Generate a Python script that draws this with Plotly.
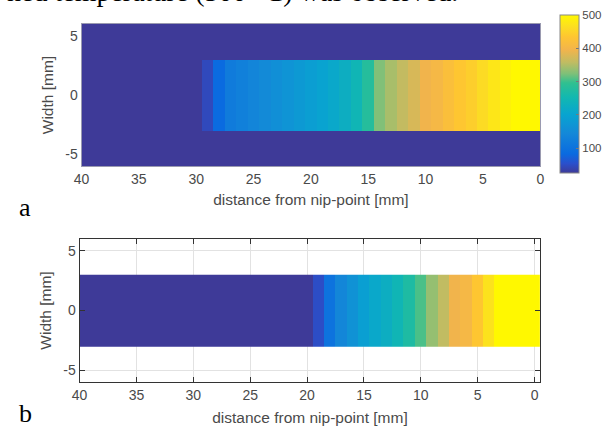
import plotly.graph_objects as go

# Distance from the nip-point (cell centres, mm) and tape width rows (mm)
distance_mm = list(range(0, 41))
width_rows_full = [-5.5, -4.5, -3.5, -2.5, -1.5, -0.5, 0.5, 1.5, 2.5, 3.5, 4.5, 5.5]
width_rows_tape = [-2.5, -1.5, -0.5, 0.5, 1.5, 2.5]
tape_half_width = 3.0
ambient_temp = 25

# Surface temperature along the tape [°C], index = distance in mm (0 ... 40)
temp_a = [500, 500, 500, 490, 475, 460, 445, 435, 420, 405,
          395, 375, 360, 345, 325, 280, 245, 225, 210, 198,
          188, 178, 168, 158, 148, 138, 128, 118, 85, 45,
          25, 25, 25, 25, 25, 25, 25, 25, 25, 25, 25]
temp_b = [500, 500, 500, 500, 470, 435, 405, 395, 358, 335,
          305, 270, 245, 225, 210, 190, 165, 140, 100, 50,
          25, 25, 25, 25, 25, 25, 25, 25, 25, 25, 25,
          25, 25, 25, 25, 25, 25, 25, 25, 25, 25]

colorbar_ticks = [100, 200, 300, 400, 500]
axis_x_ticks = [0, 5, 10, 15, 20, 25, 30, 35, 40]
axis_y_ticks = [-5, 0, 5]
axis_y_labels = ["-5", "0", "5"]

# Parula-like colour map
parula = [
    [0.00, "#3e3a98"], [0.06, "#2a50cc"], [0.12, "#0a6ae0"],
    [0.25, "#1488d8"], [0.37, "#08a4d0"], [0.48, "#12b8b0"],
    [0.57, "#30c090"], [0.63, "#80c078"], [0.70, "#c0bc62"],
    [0.78, "#f2b44c"], [0.86, "#fec532"], [0.93, "#fce020"],
    [1.00, "#fff800"],
]

# Grid of temperatures: panel a spans the full width (tape surrounded by cold
# substrate), panel b only shows the tape itself
z_a = [[temp_a[i] if abs(w) < tape_half_width else ambient_temp
        for i in range(len(distance_mm))] for w in width_rows_full]
z_b = [[temp_b[i] for i in range(len(distance_mm))] for w in width_rows_tape]

W, H = 608, 430


def px_x(p):
    return p / W


def px_y(p):
    return 1 - p / H


fig = go.Figure()
fig.add_trace(go.Heatmap(x=distance_mm, y=width_rows_full, z=z_a,
                         coloraxis="coloraxis", xaxis="x", yaxis="y",
                         hoverinfo="skip"))
fig.add_trace(go.Heatmap(x=distance_mm, y=width_rows_tape, z=z_b,
                         coloraxis="coloraxis", xaxis="x2", yaxis="y2",
                         hoverinfo="skip"))

sans = "Liberation Sans, Arial, sans-serif"
tick_font = dict(family=sans, size=14, color="#4a4a4a")
title_font = dict(family=sans, size=15.5, color="#4a4a4a")

fig.update_layout(
    width=W, height=H,
    margin=dict(l=0, r=0, t=0, b=0),
    paper_bgcolor="white", plot_bgcolor="white",
    showlegend=False,
    coloraxis=dict(
        colorscale=parula, cmin=ambient_temp, cmax=500,
        colorbar=dict(
            x=px_x(563), xanchor="left", xpad=0,
            y=px_y(94), yanchor="middle", ypad=0,
            len=158 / H, lenmode="fraction",
            thickness=19, thicknessmode="pixels",
            tickvals=colorbar_ticks, ticks="inside", ticklen=3,
            tickcolor="#777", outlinecolor="#888", outlinewidth=1,
            tickfont=dict(family=sans, size=11.5, color="#4a4a4a"),
        ),
    ),
    xaxis=dict(
        domain=[px_x(75), px_x(543)], anchor="y",
        range=[40, 0], tickvals=axis_x_ticks, ticks="",
        showgrid=False, zeroline=False,
        showline=True, linecolor="#9a9ab0", linewidth=1, mirror=True,
        tickfont=tick_font,
        title=dict(text="distance from nip-point [mm]", font=title_font, standoff=8),
    ),
    yaxis=dict(
        domain=[px_y(166), px_y(24)], anchor="x",
        range=[-6, 6], tickvals=axis_y_ticks, ticktext=axis_y_labels, ticks="",
        showgrid=False, zeroline=False,
        showline=True, linecolor="#9a9ab0", linewidth=1, mirror=True,
        tickfont=tick_font,
        title=dict(text="Width [mm]", font=title_font, standoff=7),
    ),
    xaxis2=dict(
        domain=[px_x(73), px_x(543)], anchor="y2",
        range=[40, -0.5], tickvals=axis_x_ticks,
        ticks="inside", ticklen=5, tickcolor="#333",
        showgrid=True, gridcolor="#e2e2e2", zeroline=False,
        showline=True, linecolor="#333", linewidth=1, mirror="allticks",
        tickfont=tick_font,
        title=dict(text="distance from nip-point [mm]", font=title_font, standoff=10),
    ),
    yaxis2=dict(
        domain=[px_y(382), px_y(239)], anchor="x2",
        range=[-6, 6], tickvals=axis_y_ticks, ticktext=axis_y_labels,
        ticks="inside", ticklen=5, tickcolor="#333",
        showgrid=True, gridcolor="#e2e2e2", zeroline=False,
        showline=True, linecolor="#333", linewidth=1, mirror="allticks",
        tickfont=tick_font,
        title=dict(text="Width [mm]", font=title_font, standoff=7),
    ),
)

serif = dict(family="Liberation Serif, Times New Roman, serif", size=26, color="black")
fig.add_annotation(text="hed temperature (500 °C) was observed.",
                   xref="paper", yref="paper", x=px_x(-3), y=px_y(-9),
                   xanchor="left", yanchor="middle", showarrow=False,
                   font=dict(serif, size=28))
fig.add_annotation(text="a", xref="paper", yref="paper", x=px_x(9), y=px_y(207),
                   xanchor="left", yanchor="middle", showarrow=False, font=serif)
fig.add_annotation(text="b", xref="paper", yref="paper", x=px_x(9), y=0,
                   xanchor="left", yanchor="bottom", showarrow=False, font=serif)

fig.write_html("out.html")
